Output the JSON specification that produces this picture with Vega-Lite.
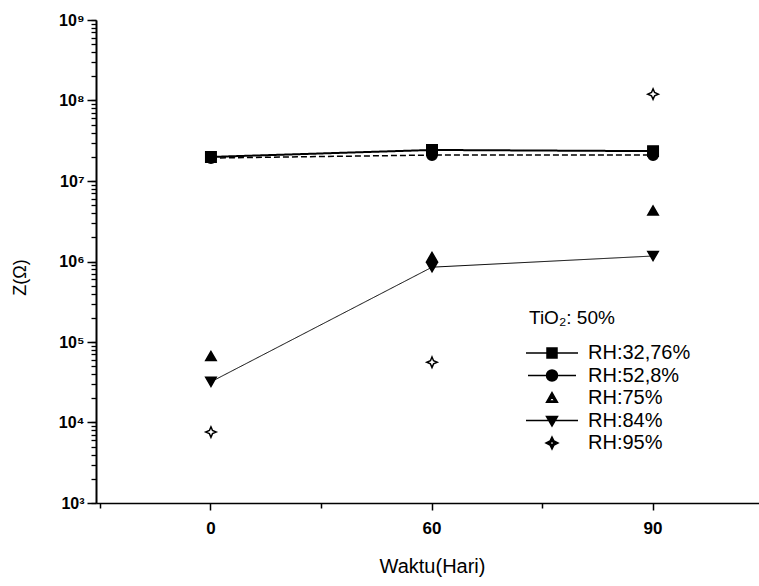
{
  "$schema": "https://vega.github.io/schema/vega-lite/v6.json",
  "width": 672,
  "height": 483,
  "autosize": {"type": "none"},
  "padding": {"left": 96, "top": 20, "right": 0, "bottom": 83},
  "background": "white",
  "config": {
    "font": "Liberation Sans",
    "view": {"stroke": null},
    "axis": {"labelColor": "black", "titleColor": "black", "domainColor": "black", "tickColor": "black", "grid": false}
  },
  "data": {
    "values": [
      {"day": "0", "rh": "RH:32,76%", "z": 19900000},
      {"day": "60", "rh": "RH:32,76%", "z": 24300000},
      {"day": "90", "rh": "RH:32,76%", "z": 23500000},
      {"day": "0", "rh": "RH:52,8%", "z": 19300000},
      {"day": "60", "rh": "RH:52,8%", "z": 21000000},
      {"day": "90", "rh": "RH:52,8%", "z": 21000000},
      {"day": "0", "rh": "RH:75%", "z": 67000},
      {"day": "60", "rh": "RH:75%", "z": 1140000},
      {"day": "90", "rh": "RH:75%", "z": 4300000},
      {"day": "0", "rh": "RH:84%", "z": 32000},
      {"day": "60", "rh": "RH:84%", "z": 850000},
      {"day": "90", "rh": "RH:84%", "z": 1170000},
      {"day": "0", "rh": "RH:95%", "z": 7600},
      {"day": "60", "rh": "RH:95%", "z": 56000},
      {"day": "90", "rh": "RH:95%", "z": 120000000}
    ]
  },
  "layer": [
    {
      "transform": [{"filter": {"field": "rh", "oneOf": ["RH:32,76%", "RH:52,8%", "RH:84%"]}}],
      "mark": {"type": "line", "color": "black"},
      "encoding": {
        "x": {
          "field": "day",
          "type": "ordinal",
          "sort": ["0", "60", "90"],
          "scale": {"type": "band", "domain": ["0", "60", "90"], "paddingInner": 0, "paddingOuter": 0.02},
          "axis": {
            "orient": "bottom",
            "title": "Waktu(Hari)",
            "labelAngle": 0,
            "tickSize": 7,
            "tickWidth": 1.5,
            "domainWidth": 1.5,
            "labelFontSize": 17,
            "labelFontWeight": "bold",
            "labelPadding": 10,
            "titleFontSize": 20,
            "titleFontWeight": "normal",
            "titlePadding": 20
          }
        },
        "y": {
          "field": "z",
          "type": "quantitative",
          "scale": {"type": "log", "domain": [1000, 1000000000], "nice": false},
          "axis": {
            "orient": "left",
            "zindex": 1,
            "title": "Z(Ω)",
            "tickCount": 100,
            "values": [1000, 2000, 3000, 4000, 5000, 6000, 7000, 8000, 9000, 10000, 20000, 30000, 40000, 50000, 60000, 70000, 80000, 90000, 100000, 200000, 300000, 400000, 500000, 600000, 700000, 800000, 900000, 1000000, 2000000, 3000000, 4000000, 5000000, 6000000, 7000000, 8000000, 9000000, 10000000, 20000000, 30000000, 40000000, 50000000, 60000000, 70000000, 80000000, 90000000, 100000000, 200000000, 300000000, 400000000, 500000000, 600000000, 700000000, 800000000, 900000000, 1000000000],
            "labelExpr": "abs(log(datum.value)/LN10 - round(log(datum.value)/LN10)) < 0.001 ? '10' + ['⁰','¹','²','³','⁴','⁵','⁶','⁷','⁸','⁹'][round(log(datum.value)/LN10)] : ''",
            "labelOverlap": false,
            "labelFlush": false,
            "ticks": true,
            "tickOpacity": 1,
            "tickSize": 5,
            "tickWidth": 1.3,
            "domainWidth": 2,
            "labelFontSize": 16,
            "labelFontWeight": "bold",
            "labelPadding": 7,
            "titleFontSize": 18,
            "titleFontWeight": "normal",
            "titleX": -76,
            "titleY": 257,
            "titleBaseline": "middle"
          }
        },
        "detail": {"field": "rh", "type": "nominal"},
        "strokeDash": {
          "field": "rh",
          "type": "ordinal",
          "scale": {"domain": ["RH:32,76%", "RH:52,8%", "RH:84%"], "range": [[1, 0], [6, 3], [1, 0]]},
          "legend": null
        },
        "strokeWidth": {
          "field": "rh",
          "type": "ordinal",
          "scale": {"domain": ["RH:32,76%", "RH:52,8%", "RH:84%"], "range": [2, 1, 1.2]},
          "legend": null
        }
      }
    },
    {
      "mark": {"type": "point", "filled": true, "stroke": "black", "strokeWidth": 1.5, "size": 110, "opacity": 1},
      "encoding": {
        "x": {
          "field": "day",
          "type": "ordinal",
          "sort": ["0", "60", "90"],
          "axis": {"orient": "bottom", "bandPosition": 0, "labels": false, "domain": false, "title": null, "tickSize": 5, "tickWidth": 1.5}
        },
        "y": {
          "field": "z",
          "type": "quantitative",
          "axis": {
            "orient": "left",
            "zindex": 1,
            "tickCount": 100,
            "values": [1000, 10000, 100000, 1000000, 10000000, 100000000, 1000000000],
            "labels": false,
            "domain": false,
            "title": null,
            "tickSize": 9,
            "tickWidth": 1.5
          }
        },
        "fill": {
          "field": "rh",
          "type": "nominal",
          "scale": {"domain": ["RH:32,76%", "RH:52,8%", "RH:75%", "RH:84%", "RH:95%"], "range": ["black", "black", "black", "black", "white"]},
          "legend": null
        },
        "shape": {
          "field": "rh",
          "type": "nominal",
          "scale": {
            "domain": ["RH:32,76%", "RH:52,8%", "RH:75%", "RH:84%", "RH:95%"],
            "range": ["square", "circle", "triangle-up", "triangle-down", "M0,-1L0.3,-0.3L1,0L0.3,0.3L0,1L-0.3,0.3L-1,0L-0.3,-0.3Z"]
          },
          "legend": null
        }
      }
    },
    {
      "transform": [{"filter": "false"}],
      "mark": {"type": "point", "filled": true, "color": "black", "stroke": "black", "strokeWidth": 1.5, "opacity": 1},
      "encoding": {
        "x": {"field": "day", "type": "ordinal", "sort": ["0", "60", "90"], "axis": null},
        "y": {"field": "z", "type": "quantitative", "axis": null},
        "shape": {
          "field": "rh",
          "type": "nominal",
          "scale": {
            "domain": ["RH:32,76%", "RH:52,8%", "RH:75%", "RH:84%", "RH:95%"],
            "range": [
              "M-2.6,0H2.6M-0.5,-0.5H0.5V0.5H-0.5Z",
              "M-2.4,0H2.4M0.55,0A0.55,0.55,0,1,1,-0.55,0A0.55,0.55,0,1,1,0.55,0Z",
              "M0,-0.55L0.55,0.42L-0.55,0.42ZM0,-0.12L-0.3,0.3L0.3,0.3Z",
              "M-2.6,0H2.6M-0.55,-0.4H0.55L0,0.55Z",
              "M0,-0.6L0.2,-0.2L0.6,0L0.2,0.2L0,0.6L-0.2,0.2L-0.6,0L-0.2,-0.2ZM0,-0.2L-0.2,0L0,0.2L0.2,0Z"
            ]
          },
          "legend": {
            "title": "TiO₂: 50%",
            "orient": "none",
            "legendX": 433,
            "legendY": 289,
            "padding": 0,
            "symbolSize": 400,
            "symbolOffset": 12,
            "labelOffset": 25,
            "labelFontSize": 20,
            "labelColor": "black",
            "titleFontSize": 19,
            "titleFontWeight": "normal",
            "titleColor": "black",
            "titlePadding": 14,
            "rowPadding": 1.5,
            "symbolStrokeWidth": 1.5
          }
        }
      }
    }
  ],
  "resolve": {"axis": {"x": "independent", "y": "independent"}, "scale": {"shape": "independent"}}
}
